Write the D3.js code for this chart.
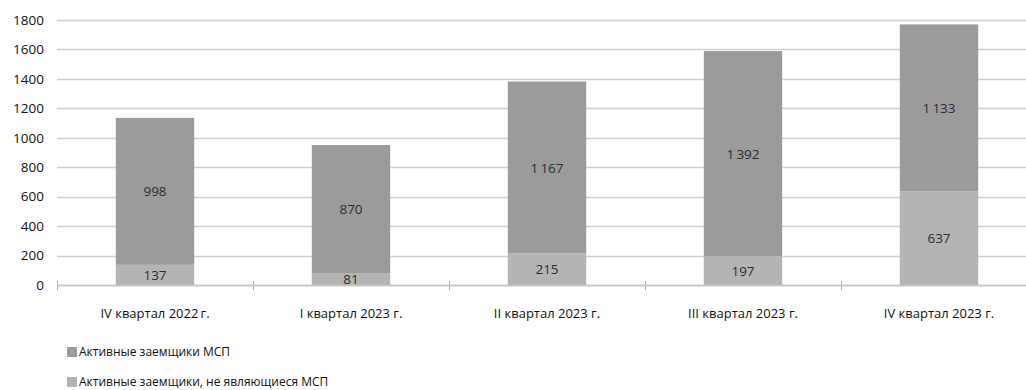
<!DOCTYPE html>
<html>
<head>
<meta charset="utf-8">
<script src="https://cdn.jsdelivr.net/npm/d3@7"></script>
<style>
  html, body { margin: 0; padding: 0; background: #fff; }
  svg { display: block; font-family: "Open Sans", "Noto Sans", sans-serif; }
</style>
</head>
<body>
<svg id="chart" width="1026" height="390"></svg>
<script>
// Quarters on the x axis
const categories = ["IV квартал 2022\u2009г.", "I квартал 2023 г.", "II квартал 2023 г.", "III квартал 2023 г.", "IV квартал 2023 г."];
// Borrowers that are not SME (bottom segment)
const nonSme = [137, 81, 215, 197, 637];
// SME borrowers (top segment)
const sme = [998, 870, 1167, 1392, 1133];
// Series names for the legend
const seriesNames = ["Активные заемщики МСП", "Активные заемщики, не являющиеся МСП"];
// Y axis ticks
const yTicks = [0, 200, 400, 600, 800, 1000, 1200, 1400, 1600, 1800];

const colors = { sme: "#9b9b9b", nonSme: "#b4b4b4" };

const svg = d3.select("#chart");
const plotLeft = 57, plotRight = 1037, plotTop = 20, plotBottom = 285;

const x = d3.scaleBand().domain(categories).range([plotLeft, plotRight]).paddingInner(0).paddingOuter(0);
const y = d3.scaleLinear().domain([0, 1800]).range([plotBottom, plotTop]);

// Horizontal grid lines
svg.append("g")
  .selectAll("line")
  .data(yTicks)
  .join("line")
  .attr("x1", plotLeft).attr("x2", 1026)
  .attr("y1", d => Math.round(y(d)) + 0.5).attr("y2", d => Math.round(y(d)) + 0.5)
  .attr("stroke", "#cfcfcf").attr("stroke-width", 1.5);

// Y tick labels
svg.append("g")
  .selectAll("text")
  .data(yTicks)
  .join("text")
  .attr("x", 44).attr("y", d => y(d))
  .attr("dy", "0.35em")
  .attr("text-anchor", "end")
  .attr("font-size", 13.5).attr("fill", "#111")
  .text(d => d);

// Category separator ticks on the baseline
const sepPos = d3.range(categories.length + 1).map(i => plotLeft + i * x.step());
svg.append("g")
  .selectAll("line")
  .data(sepPos)
  .join("line")
  .attr("x1", d => d + 0.5).attr("x2", d => d + 0.5)
  .attr("y1", plotBottom - 4).attr("y2", plotBottom + 5)
  .attr("stroke", "#b0b0b0").attr("stroke-width", 1);

const stackData = categories.map((c, i) => ({ cat: c, nonSme: nonSme[i], sme: sme[i] }));
const stack = d3.stack().keys(["nonSme", "sme"])(stackData);

const barW = x.bandwidth() * 0.4;
const barX = d => x(d.data.cat) + (x.bandwidth() - barW) / 2;

const layers = svg.append("g")
  .selectAll("g")
  .data(stack)
  .join("g")
  .attr("fill", d => colors[d.key]);

layers.selectAll("rect")
  .data(d => d)
  .join("rect")
  .attr("x", barX)
  .attr("width", barW)
  .attr("y", d => y(d[1]))
  .attr("height", d => y(d[0]) - y(d[1]));

// Value labels centred in each segment
const fmt = v => v >= 1000 ? d3.format(",")(v).replace(",", "\u2009") : String(v);
layers.selectAll("text")
  .data(d => d.map(p => ({ p, key: d.key })))
  .join("text")
  .attr("x", d => x(d.p.data.cat) + x.bandwidth() / 2)
  .attr("y", d => (y(d.p[0]) + y(d.p[1])) / 2)
  .attr("dy", "0.38em")
  .attr("text-anchor", "middle")
  .attr("font-size", 13.5)
  .attr("fill", "#2e2e2e")
  .text(d => fmt(d.p.data[d.key]));

// Baseline
svg.append("line")
  .attr("x1", plotLeft).attr("x2", 1026)
  .attr("y1", plotBottom + 0.5).attr("y2", plotBottom + 0.5)
  .attr("stroke", "#c4c4c4").attr("stroke-width", 1.5);

// Category labels
svg.append("g")
  .selectAll("text")
  .data(categories)
  .join("text")
  .attr("x", d => x(d) + x.bandwidth() / 2)
  .attr("y", 313)
  .attr("dy", "0.35em")
  .attr("text-anchor", "middle")
  .attr("font-size", 13).attr("fill", "#111")
  .text(d => d);

// Legend
const legendItems = [
  { name: seriesNames[0], color: colors.sme },
  { name: seriesNames[1], color: colors.nonSme }
];
const legend = svg.append("g")
  .selectAll("g")
  .data(legendItems)
  .join("g")
  .attr("transform", (d, i) => `translate(67, ${352 + i * 30})`);
legend.append("rect")
  .attr("x", 0).attr("y", -5)
  .attr("width", 10).attr("height", 10)
  .attr("fill", d => d.color);
legend.append("text")
  .attr("x", 12).attr("y", 0)
  .attr("dy", "0.35em")
  .attr("font-size", 12).attr("fill", "#111")
  .text(d => d.name);
</script>
</body>
</html>
